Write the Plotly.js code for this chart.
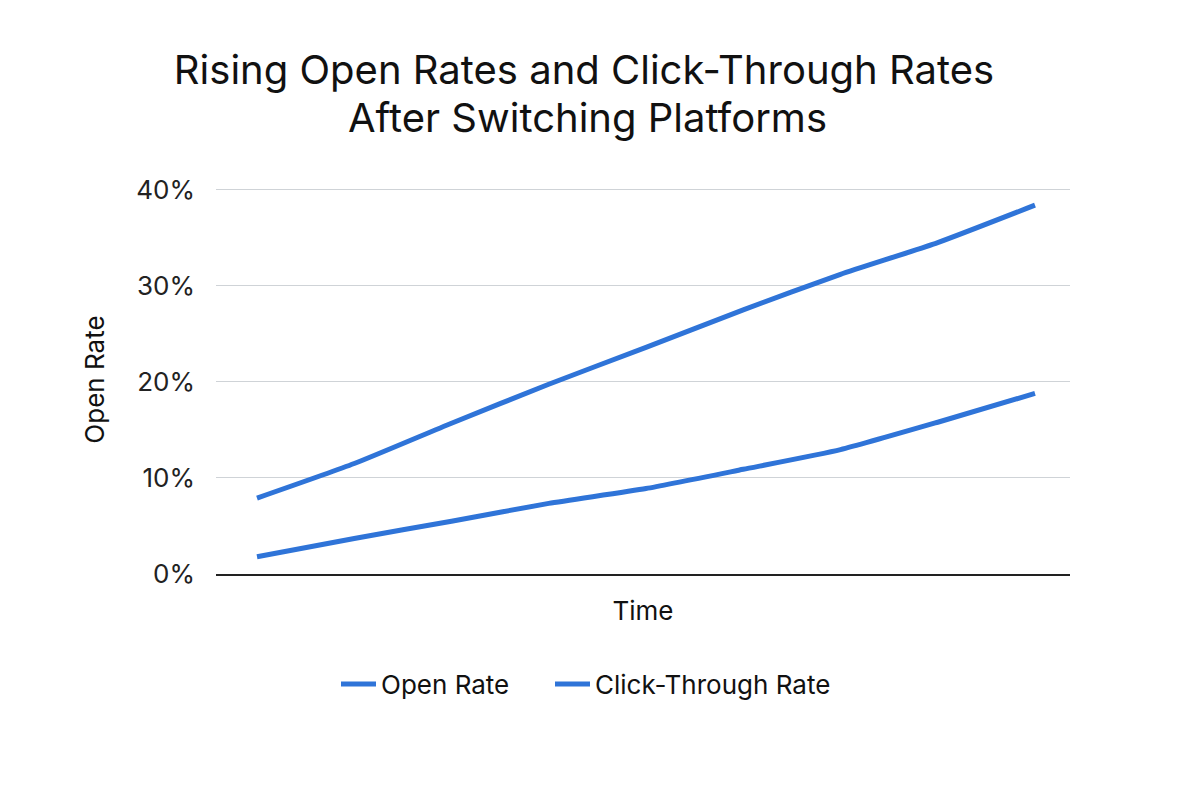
<!DOCTYPE html>
<html>
<head>
<meta charset="utf-8">
<script src="https://cdn.plot.ly/plotly-3.0.1.min.js"></script>
<style>html,body{margin:0;padding:0;background:#fff;}#chart{width:1200px;height:800px;}</style>
</head>
<body>
<div id="chart"></div>
<script>
const timePoints = [0, 1, 2, 3, 4, 5, 6, 7, 8];
const openRate = [7.9, 11.5, 15.7, 19.75, 23.6, 27.5, 31.2, 34.5, 38.4];
const clickThroughRate = [1.8, 3.7, 5.5, 7.35, 8.9, 10.9, 12.95, 15.8, 18.8];
const seriesNames = ["Open Rate", "Click-Through Rate"];
const yTickVals = [0, 10, 20, 30, 40];
const yTickText = ["0%", "10%", "20%", "30%", "40%"];
const titleLines = ["Rising Open Rates and Click-Through Rates", "After Switching Platforms"];

const fontFam = "Inter, Roboto, 'Liberation Sans', sans-serif";
const lineColor = "#2f74d8";

const traces = [
  {x: timePoints, y: openRate, name: seriesNames[0], type: "scatter", mode: "lines",
   legend: "legend",
   line: {color: lineColor, width: 5, shape: "spline", smoothing: 0.5}},
  {x: timePoints, y: clickThroughRate, name: seriesNames[1], type: "scatter", mode: "lines",
   legend: "legend2",
   line: {color: lineColor, width: 5, shape: "spline", smoothing: 0.5}}
];

const legendBase = {
  orientation: "h", xref: "container", xanchor: "left",
  y: 1 - 684/800, yref: "container", yanchor: "middle",
  font: {size: 26, color: "#111"}, itemwidth: 35, bgcolor: "rgba(0,0,0,0)"
};

const layout = {
  width: 1200, height: 800,
  paper_bgcolor: "#ffffff", plot_bgcolor: "#ffffff",
  font: {family: fontFam, color: "#111", size: 26},
  margin: {l: 216, r: 130, t: 185, b: 226, pad: 0},
  title: {
    text: titleLines[0],
    font: {family: fontFam, size: 40, color: "#111"},
    x: 584/1200, xref: "container", xanchor: "center",
    y: 1 - 70/800, yref: "container", yanchor: "middle"
  },
  annotations: [{
    text: titleLines[1], showarrow: false,
    font: {family: fontFam, size: 40, color: "#111"},
    xref: "paper", yref: "paper",
    x: (587 - 216) / 854, y: (574 - 118) / 389,
    xanchor: "center", yanchor: "middle"
  }],
  xaxis: {
    range: [-0.4216, 8.36],
    showticklabels: false, ticks: "", showgrid: false, zeroline: false,
    showline: true, linecolor: "#222", linewidth: 1.5,
    title: {text: "Time", font: {size: 26, color: "#111"}, standoff: 27}
  },
  yaxis: {
    range: [0, 40.5],
    tickvals: yTickVals, ticktext: yTickText,
    tickfont: {size: 26, color: "#222"},
    ticklabelstandoff: 20,
    showgrid: true, gridcolor: "#cfd3d7", gridwidth: 1,
    zeroline: false, showline: false, ticks: "", ticklen: 0,
    title: {text: "Open Rate", font: {size: 26, color: "#111"}, standoff: 24}
  },
  showlegend: true,
  legend: Object.assign({}, legendBase, {x: 336/1200}),
  legend2: Object.assign({}, legendBase, {x: 550/1200})
};

Plotly.newPlot("chart", traces, layout, {displayModeBar: false, staticPlot: true});
</script>
</body>
</html>
